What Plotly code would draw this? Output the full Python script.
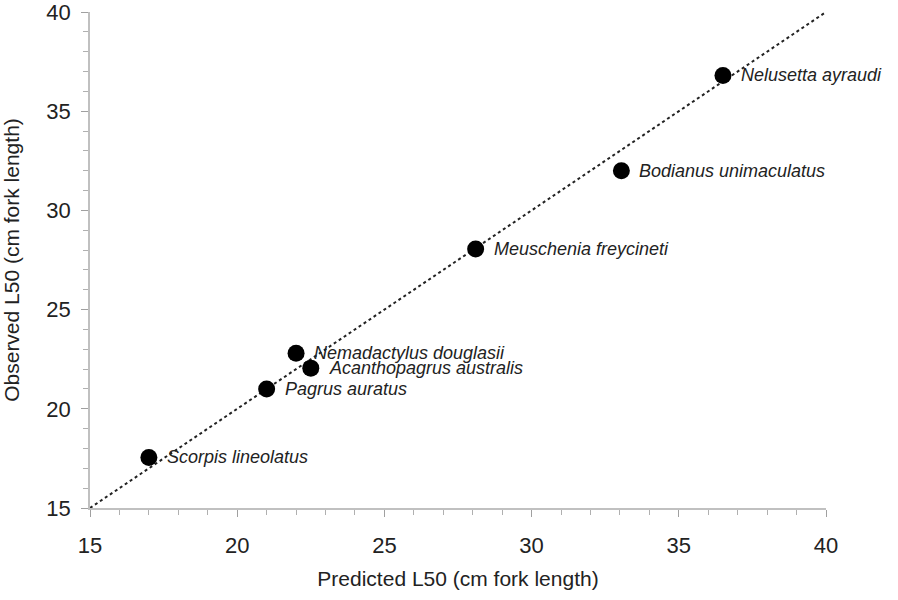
import plotly.graph_objects as go

species = ["Scorpis lineolatus", "Pagrus auratus", "Nemadactylus douglasii",
           "Acanthopagrus australis", "Meuschenia freycineti",
           "Bodianus unimaculatus", "Nelusetta ayraudi"]
predicted = [17.0, 21.0, 22.0, 22.5, 28.1, 33.05, 36.5]
observed = [17.55, 21.0, 22.8, 22.05, 28.05, 32.0, 36.8]
line_x = [15, 40]
line_y = [15, 40]
x_ticks = [15, 20, 25, 30, 35, 40]
y_ticks = [15, 20, 25, 30, 35, 40]

FONT = "Liberation Sans, Arial"

fig = go.Figure()
fig.add_trace(go.Scatter(x=line_x, y=line_y, mode="lines",
                         line=dict(color="#222222", width=2, dash="dot"),
                         hoverinfo="skip", showlegend=False))
fig.add_trace(go.Scatter(x=predicted, y=observed, mode="markers",
                         marker=dict(color="black", size=17),
                         showlegend=False))

for name, px, py in zip(species, predicted, observed):
    fig.add_annotation(x=px, y=py, text=name, showarrow=False,
                       xanchor="left", yanchor="middle", xshift=16,
                       font=dict(family=FONT, size=18, color="#222222",
                                 style="italic"))

axis_common = dict(
    showgrid=False, zeroline=False, showline=True, automargin=False,
    ticklabeloverflow="allow",
    linecolor="#c0c0c0", linewidth=1.5,
    ticks="outside", ticklen=7, tickwidth=1.2, tickcolor="#a0a0a0",
    tickfont=dict(family=FONT, size=22, color="#222222"),
    minor=dict(ticks="outside", ticklen=5, tickwidth=1, tickcolor="#b0b0b0", dtick=1),
)

fig.update_xaxes(range=[15, 40], tickvals=x_ticks, ticklabelstandoff=10,
                 title=dict(text="Predicted L50 (cm fork length)",
                            font=dict(family=FONT, size=21, color="#222222"),
                            standoff=14),
                 **axis_common)
fig.update_yaxes(range=[15, 40], tickvals=y_ticks, ticklabelstandoff=6,
                 title=dict(text="Observed L50 (cm fork length)",
                            font=dict(family=FONT, size=21, color="#222222"),
                            standoff=22),
                 **axis_common)

fig.update_layout(width=898, height=600,
                  margin=dict(l=90, r=72, t=12, b=92),
                  plot_bgcolor="white", paper_bgcolor="white")
fig.write_html("out.html")
